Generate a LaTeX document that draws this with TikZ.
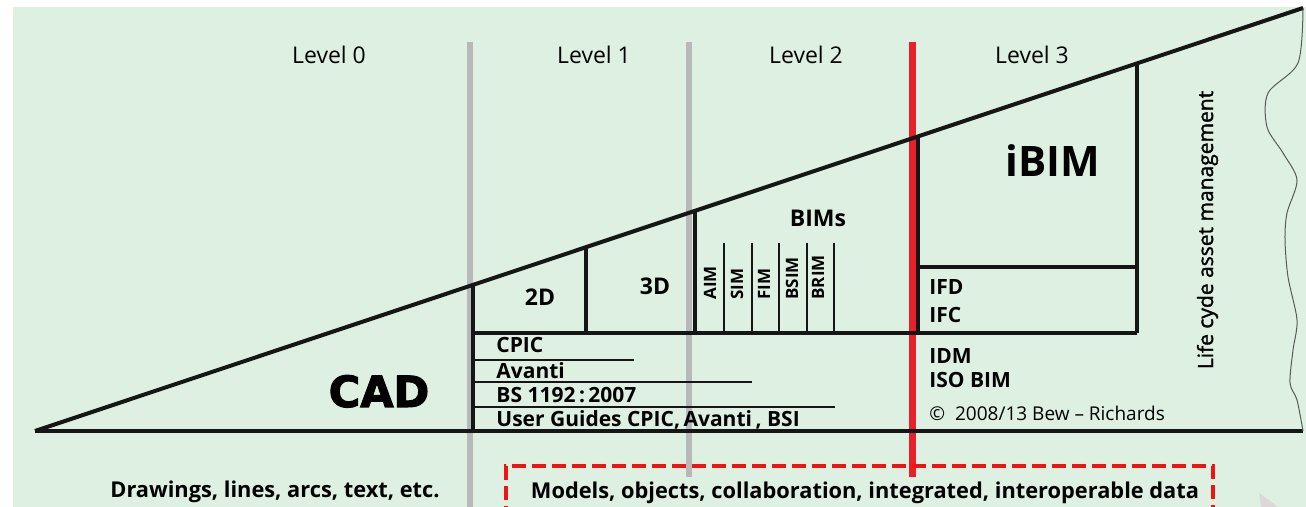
\documentclass[tikz,border=0pt]{standalone}
\usepackage{fontspec}
\setmainfont{Open Sans}
\newfontfamily\cadfont{DejaVu Sans}[FakeBold=2.5]
\newfontfamily\medfont{Open Sans}[FakeBold=1.5]
\definecolor{paper}{HTML}{DEF0E1}
\definecolor{divider}{HTML}{B8B8B8}
\definecolor{levelred}{HTML}{E8202A}
\definecolor{boxred}{HTML}{F21212}
\definecolor{ink}{HTML}{161616}

\begin{document}
\begin{tikzpicture}[x=0.5pt,y=-0.5pt,
	edge/.style={draw=ink,line width=2pt},
	wall/.style={draw=ink,line width=1.7pt},
	thin/.style={draw=ink,line width=0.7pt},
	lvl/.style={anchor=base,font=\fontsize{11.5}{13}\selectfont},
	stage/.style={anchor=base,font=\fontsize{11.5}{13}\selectfont\bfseries},
	std/.style={anchor=base west,inner sep=0pt,font=\fontsize{10.5}{12}\selectfont\bfseries},
	sub/.style={rotate=90,anchor=west,inner sep=0pt,font=\fontsize{8.5}{9}\selectfont\bfseries}]
\clip (0,0) rectangle (1306,507);
\fill[white] (0,0) rectangle (1306,507);
\fill[paper] (13,7) rectangle (1306,507);

% level dividers
\draw[divider,line width=3pt] (470,42) -- (470,507);
\draw[divider,line width=3pt] (689,42) -- (689,477);
\draw[levelred,line width=3.5pt] (912,42) -- (912,477);

\node [lvl] (l0) at (329,64) {Level 0};
\node [lvl] (l1) at (594,64) {Level 1};
\node [lvl] (l2) at (806,64) {Level 2};
\node [lvl] (l3) at (1032,64) {Level 3};

% wedge
\coordinate (apex) at (35,431);
\coordinate (tip) at (1303,8);
\coordinate (rim) at (1303,431);
\draw[edge] (apex) -- (tip);
\draw[edge] (apex) -- (rim);
\draw[gray!70!black,line width=0.5pt] plot[smooth] coordinates {(tip) (1298,63) (1268,93) (1267,127) (1283,153) (1297,180) (1287,213) (1285,240) (1288,277) (1297,320) (1293,350) (1290,383) (1297,400) (rim)};

% boxes
\draw[wall] (473,285) -- (473,431);
\draw[wall] (473,333) -- (1137,333);
\draw[wall] (586,248) -- (586,333);
\draw[wall] (695,211) -- (695,333);
\draw[wall] (918,137) -- (918,333);
\draw[wall] (1137,64) -- (1137,333);
\draw[wall] (918,267) -- (1137,267);
\foreach \x in {724,752,779,807,834}
	\draw[thin,line width=0.6pt] (\x,243) -- (\x,333);

\node [anchor=base,font=\cadfont\fontsize{21.5}{24}\selectfont\bfseries] (cad) at (379,407) {CAD};
\node [stage] (twod) at (540,306) {2D};
\node [stage] (threed) at (655,295) {3D};
\node [stage] (bims) at (818,227) {BIMs};
\node [anchor=base,font=\fontsize{21}{24}\selectfont\bfseries] (ibim) at (1053,177) {iBIM};

\node [sub] (aim) at (710,300) {AIM};
\node [sub] (sim) at (737,300) {SIM};
\node [sub] (fim) at (764,300) {FIM};
\node [sub] (bsim) at (792,300) {BSIM};
\node [sub] (brim) at (818,300) {BRIM};

% level 1 standards
\node [std] (cpic) at (496,353) {CPIC};
\node [std] (avanti) at (496,379) {Avanti};
\node [std] (bs) at (496,403) {BS 1192\,:\,2007};
\node [std] (guides) at (496,427) {User Guides CPIC,\,Avanti\,, BSI};
\draw[thin] (475,360) -- (634,360);
\draw[thin] (475,382) -- (752,382);
\draw[thin] (475,407) -- (835,407);

% level 3 standards
\node [std] (ifd) at (929,295) {IFD};
\node [std] (ifc) at (929,323) {IFC};
\node [std] (idm) at (929,364) {IDM};
\node [std] (isobim) at (929,388) {ISO BIM};
\node [std,font=\fontsize{9.5}{11}\selectfont] (copy) at (929,421) {©\ \ 2008/13 Bew -- Richards};

\node [anchor=base,rotate=90,font=\medfont\fontsize{10.5}{12}\selectfont] (lcam) at (1213,230) {Life cyde asset management};

% captions
\node [anchor=base,font=\fontsize{10.9}{12}\selectfont\bfseries] (cadnote) at (275,497) {Drawings, lines, arcs, text, etc.};
\draw[boxred,line width=2pt,dash pattern=on 7pt off 3pt] (506,520) -- (506,466) -- (1213,466) -- (1213,520);
\node [anchor=base,font=\fontsize{10.9}{12}\selectfont\bfseries] (bimnote) at (865,498) {Models, objects, collaboration, integrated, interoperable data};

\fill[gray!30] (1259,493) -- (1261,507) -- (1278,507) -- cycle;
\end{tikzpicture}
\end{document}
